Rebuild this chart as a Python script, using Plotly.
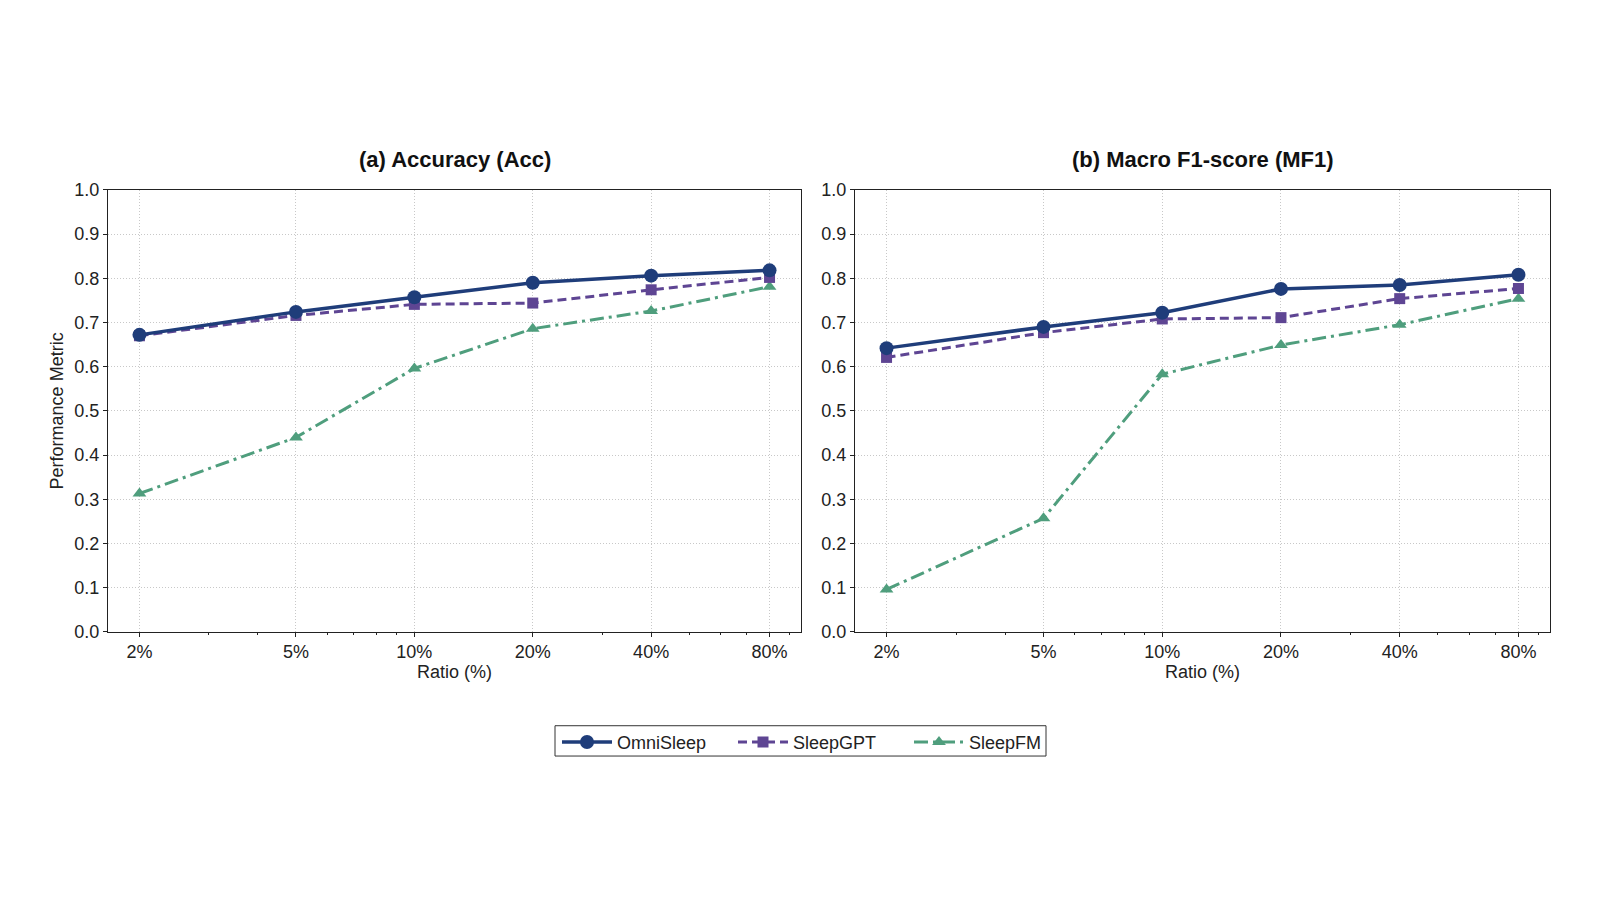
import math
import plotly.graph_objects as go

ratios = [2, 5, 10, 20, 40, 80]
tick_labels = ["2%", "5%", "10%", "20%", "40%", "80%"]
minor_ratios = [3, 4, 6, 7, 8, 9, 30, 50, 60, 70, 90]

models = ["OmniSleep", "SleepGPT", "SleepFM"]

acc_omnisleep = [0.672, 0.724, 0.757, 0.790, 0.806, 0.818]
acc_sleepgpt = [0.670, 0.716, 0.741, 0.744, 0.774, 0.802]
acc_sleepfm = [0.313, 0.440, 0.596, 0.686, 0.726, 0.781]

mf1_omnisleep = [0.642, 0.690, 0.722, 0.776, 0.785, 0.808]
mf1_sleepgpt = [0.621, 0.677, 0.708, 0.711, 0.754, 0.777]
mf1_sleepfm = [0.096, 0.257, 0.583, 0.649, 0.695, 0.754]

panel_titles = ["(a) Accuracy (Acc)", "(b) Macro F1-score (MF1)"]

colors = {"OmniSleep": "#1f3d7a", "SleepGPT": "#5e4593", "SleepFM": "#4f9e7d"}
dashes = {"OmniSleep": "solid", "SleepGPT": "9px,5px", "SleepFM": "14px,5px,3px,5px"}
symbols = {"OmniSleep": "circle", "SleepGPT": "square", "SleepFM": "triangle-up"}
msizes = {"OmniSleep": 14, "SleepGPT": 11, "SleepFM": 12}
lwidths = {"OmniSleep": 3.5, "SleepGPT": 3, "SleepFM": 3}

data = [
    {"OmniSleep": acc_omnisleep, "SleepGPT": acc_sleepgpt, "SleepFM": acc_sleepfm},
    {"OmniSleep": mf1_omnisleep, "SleepGPT": mf1_sleepgpt, "SleepFM": mf1_sleepfm},
]

FONT = "Liberation Sans, Arial, sans-serif"
TXT = "#222222"

fig = go.Figure()
for i, d in enumerate(data):
    xa = "x" if i == 0 else "x2"
    ya = "y" if i == 0 else "y2"
    for m in reversed(models):
        fig.add_trace(go.Scatter(
            x=ratios, y=d[m], name=m, xaxis=xa, yaxis=ya,
            mode="lines+markers",
            line=dict(color=colors[m], width=lwidths[m], dash=dashes[m]),
            marker=dict(symbol=symbols[m], size=msizes[m], color=colors[m]),
            showlegend=(i == 0), legendrank={"OmniSleep": 1, "SleepGPT": 2, "SleepFM": 3}[m],
        ))

lo = math.log10(2) - 0.08
hi = math.log10(80) + 0.08

axis_common = dict(
    showline=True, linecolor="#222222", linewidth=1, mirror=True,
    ticks="outside", ticklen=4, tickcolor="#222222",
    showgrid=True, gridcolor="#c8c8c8", griddash="1px,2px", gridwidth=1,
    zeroline=False,
    tickfont=dict(family=FONT, size=18, color=TXT),
)

xaxis_cfg = dict(
    type="log", range=[lo, hi], tickmode="array", tickvals=ratios, ticktext=tick_labels,
    title=dict(text="Ratio (%)", font=dict(family=FONT, size=18, color=TXT), standoff=2),
    minor=dict(tickmode="array", tickvals=minor_ratios, ticks="outside", ticklen=2.5,
               tickcolor="#222222", showgrid=False),
    **axis_common,
)
yaxis_cfg = dict(
    range=[0, 1], tickmode="array", tickvals=[k / 10 for k in range(11)],
    ticktext=[f"{k/10:.1f}" for k in range(11)],
    **axis_common,
)

# legend frame (paper pixels)
LEG_L, LEG_R, LEG_T, LEG_B = 555, 1046, 732, 763

fig.update_layout(
    width=1600, height=900,
    margin=dict(l=0, r=0, t=0, b=0),
    paper_bgcolor="white", plot_bgcolor="white",
    xaxis=dict(domain=[108 / 1600, 801 / 1600], anchor="y", **xaxis_cfg),
    xaxis2=dict(domain=[855 / 1600, 1550 / 1600], anchor="y2", **xaxis_cfg),
    yaxis=dict(domain=[1 - 636 / 900, 1 - 184 / 900], anchor="x",
               title=dict(text="Performance Metric", font=dict(family=FONT, size=18, color=TXT), standoff=6),
               **yaxis_cfg),
    yaxis2=dict(domain=[1 - 636 / 900, 1 - 184 / 900], anchor="x2", **yaxis_cfg),
    legend=dict(
        orientation="h", x=557 / 1600, y=1 - 749 / 900, xanchor="left", yanchor="middle",
        borderwidth=0, bgcolor="rgba(0,0,0,0)",
        font=dict(family=FONT, size=18, color=TXT),
        traceorder="normal", itemwidth=50, entrywidth=111,
    ),
    shapes=[dict(type="rect", xref="paper", yref="paper",
                 x0=LEG_L / 1600, x1=LEG_R / 1600, y0=1 - LEG_B / 900, y1=1 - LEG_T / 900,
                 line=dict(color="#333333", width=1), fillcolor="rgba(0,0,0,0)", layer="below")],
    font=dict(family=FONT),
    annotations=[
        dict(text="<b>" + panel_titles[0] + "</b>", x=(108 + 801) / 2 / 1600, y=1 - 153 / 900,
             xref="paper", yref="paper", showarrow=False, xanchor="center", yanchor="middle",
             font=dict(family=FONT, size=22, color="#111111")),
        dict(text="<b>" + panel_titles[1] + "</b>", x=(855 + 1550) / 2 / 1600, y=1 - 153 / 900,
             xref="paper", yref="paper", showarrow=False, xanchor="center", yanchor="middle",
             font=dict(family=FONT, size=22, color="#111111")),
    ],
)

fig.write_html("out.html")
